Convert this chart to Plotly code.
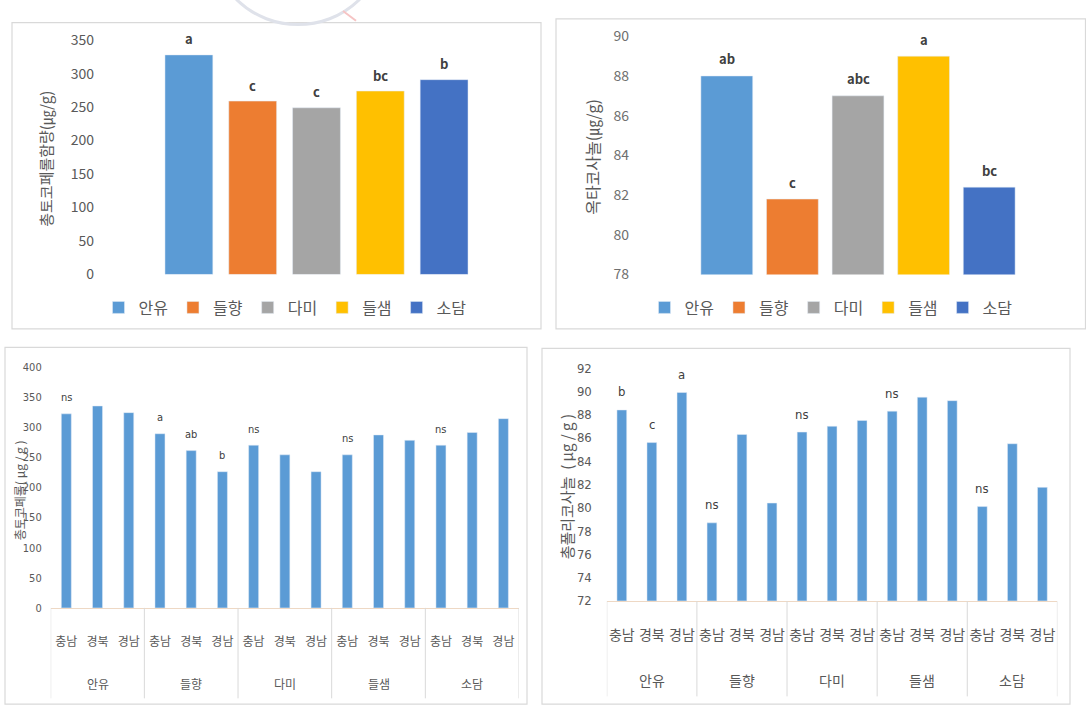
import plotly.graph_objects as go

W, H = 1086, 719

# ---------------- data ----------------
varieties = ["안유", "들향", "다미", "들샘", "소담"]
variety_colors = ["#5B9BD5", "#ED7D31", "#A5A5A5", "#FFC000", "#4472C4"]
regions = ["충남", "경북", "경남"]

tocopherol_total = [328, 259, 249, 274, 291]
tocopherol_letters = ["a", "c", "c", "bc", "b"]

octacosanol = [88.0, 81.8, 87.0, 89.0, 82.4]
octacosanol_letters = ["ab", "c", "abc", "a", "bc"]

tocopherol_by_region = [322, 335, 324, 289, 261, 226, 270, 254, 226, 254, 287, 278, 270, 291, 314]
tocopherol_region_letters = ["ns", "", "", "a", "ab", "b", "ns", "", "", "ns", "", "", "ns", "", ""]

policosanol_by_region = [88.4, 85.6, 89.9, 78.7, 86.3, 80.4, 86.5, 87.0, 87.5, 88.3, 89.5, 89.2, 80.1, 85.5, 81.75]
policosanol_letters = ["b", "c", "a", "ns", "", "", "ns", "", "", "ns", "", "", "ns", "", ""]

title_1 = "총토코페롤함량(㎍/g)"
title_2 = "옥타코사놀(㎍/g)"
title_3 = "총토코페롤( μg / g )"
title_4 = "총폴리코사놀  ( μg / g )"

# ---------------- helpers ----------------
def px_x(p):
    return p / W


def px_y(p):
    return 1 - p / H


KR = "Noto Sans CJK KR"
NARROW = "Liberation Sans Narrow, DejaVu Sans Condensed, Noto Sans CJK KR"
GRAY = "#595959"
DARK = "#404040"
FRAME = "#d9d9d9"

fig = go.Figure()

# panel 1 bars
for name, val, col in zip(varieties, tocopherol_total, variety_colors):
    fig.add_trace(go.Bar(x=[name], y=[val], name=name, marker_color=col, width=0.75,
                         xaxis="x", yaxis="y", legend="legend"))
# panel 2 bars
for name, val, col in zip(varieties, octacosanol, variety_colors):
    fig.add_trace(go.Bar(x=[name], y=[val], name=name, marker_color=col, width=0.79,
                         xaxis="x2", yaxis="y2", legend="legend2"))

# panels 3/4 combined categories
combo = [f"{v} {r}" for v in varieties for r in regions]
combo_ticks = [r for v in varieties for r in regions]

fig.add_trace(go.Bar(x=combo, y=tocopherol_by_region, marker_color="#5B9BD5", width=0.32,
                     xaxis="x3", yaxis="y3", showlegend=False))
fig.add_trace(go.Bar(x=combo, y=policosanol_by_region, marker_color="#5B9BD5", width=0.325,
                     xaxis="x4", yaxis="y4", showlegend=False))

annotations = []
for name, val, txt in zip(varieties, tocopherol_total, tocopherol_letters):
    annotations.append(dict(x=name, y=val, xref="x", yref="y", text=f"<b>{txt}</b>", showarrow=False,
                            yanchor="middle", yshift=16, font=dict(family=KR, size=13, color=DARK)))
for name, val, txt in zip(varieties, octacosanol, octacosanol_letters):
    annotations.append(dict(x=name, y=val, xref="x2", yref="y2", text=f"<b>{txt}</b>", showarrow=False,
                            yanchor="middle", yshift=17, font=dict(family=KR, size=13, color=DARK)))
for c, val, txt in zip(combo, tocopherol_by_region, tocopherol_region_letters):
    if txt:
        annotations.append(dict(x=c, y=val, xref="x3", yref="y3", text=txt, showarrow=False,
                                yanchor="middle", yshift=16, font=dict(family=NARROW, size=11, color=DARK)))
for c, val, txt in zip(combo, policosanol_by_region, policosanol_letters):
    if txt:
        annotations.append(dict(x=c, y=val, xref="x4", yref="y4", text=txt, showarrow=False,
                                yanchor="middle", yshift=18, font=dict(family=NARROW, size=13, color=DARK)))

# group labels under panels 3/4
n_r = len(regions)
for g, v in enumerate(varieties):
    mid = g * n_r + (n_r - 1) / 2
    annotations.append(dict(x=mid, y=px_y(692), xref="x3", yref="paper", text=v, showarrow=False,
                            yanchor="middle", font=dict(family=KR, size=12, color=GRAY)))
    annotations.append(dict(x=mid, y=px_y(688), xref="x4", yref="paper", text=v, showarrow=False,
                            yanchor="middle", font=dict(family=KR, size=14, color=GRAY)))

# y titles
annotations += [
    dict(x=px_x(46), y=px_y(152), xref="paper", yref="paper", text=title_1, textangle=-90,
         xanchor="center", yanchor="middle", showarrow=False, font=dict(family=KR, size=15, color=GRAY)),
    dict(x=px_x(592), y=px_y(150), xref="paper", yref="paper", text=title_2, textangle=-90,
         xanchor="center", yanchor="middle", showarrow=False, font=dict(family=KR, size=16, color=GRAY)),
    dict(x=px_x(19), y=px_y(493), xref="paper", yref="paper", text=title_3, textangle=-90,
         xanchor="center", yanchor="middle", showarrow=False, font=dict(family=KR, size=12, color=GRAY)),
    dict(x=px_x(566), y=px_y(490), xref="paper", yref="paper", text=title_4, textangle=-90,
         xanchor="center", yanchor="middle", showarrow=False, font=dict(family=KR, size=15, color=GRAY)),
]

shapes = []
# panel frames
for (x0, y0, x1, y1) in [(12, 12, 541, 327), (556, 8, 1085.5, 327), (5, 346, 527, 713), (542, 347, 1070, 713)]:
    shapes.append(dict(type="rect", xref="paper", yref="paper", x0=px_x(x0), x1=px_x(x1),
                       y0=px_y(y1), y1=px_y(y0), line=dict(color=FRAME, width=1.2), layer="below"))
# dividers of the two-level category axes
for g in range(len(varieties) + 1):
    xd = g * n_r - 0.5
    shapes.append(dict(type="line", xref="x3", yref="paper", x0=xd, x1=xd, y0=px_y(614), y1=px_y(707),
                       line=dict(color=FRAME, width=1)))
    shapes.append(dict(type="line", xref="x4", yref="paper", x0=xd, x1=xd, y0=px_y(607), y1=px_y(705),
                       line=dict(color=FRAME, width=1)))
# faint watermark at the top edge
shapes.append(dict(type="circle", xref="paper", yref="paper", x0=px_x(212), x1=px_x(384),
                   y0=px_y(14), y1=px_y(-158), line=dict(color="#dfe2ea", width=3), layer="below"))
shapes.append(dict(type="line", xref="paper", yref="paper", x0=px_x(343), x1=px_x(356),
                   y0=px_y(0), y1=px_y(10), line=dict(color="#f6c4c4", width=2), layer="below"))

common_y = dict(showgrid=False, zeroline=False, ticks="", showline=False)
common_x = dict(showgrid=False, zeroline=False, ticks="", fixedrange=True)

fig.update_layout(
    width=W, height=H,
    margin=dict(l=0, r=0, t=0, b=0),
    paper_bgcolor="white", plot_bgcolor="rgba(0,0,0,0)",
    barmode="overlay",
    font=dict(family=KR, color=GRAY),
    xaxis=dict(domain=[px_x(157), px_x(476)], anchor="y", showticklabels=False, showline=False,
               categoryorder="array", categoryarray=varieties, range=[-0.5, 4.5], **common_x),
    yaxis=dict(domain=[px_y(271), px_y(30)], anchor="x", range=[0, 350], dtick=50, tick0=0,
               ticklabelstandoff=62, tickfont=dict(family=KR, size=14, color=GRAY), **common_y),
    xaxis2=dict(domain=[px_x(694), px_x(1022)], anchor="y2", showticklabels=False, showline=False,
                categoryorder="array", categoryarray=varieties, range=[-0.5, 4.5], **common_x),
    yaxis2=dict(domain=[px_y(271), px_y(26)], anchor="x2", range=[78, 90], dtick=2, tick0=78,
                ticklabelstandoff=64, tickfont=dict(family=KR, size=14, color="#6f6f6f"), **common_y),
    xaxis3=dict(domain=[px_x(50.7), px_x(519)], anchor="y3", categoryorder="array", categoryarray=combo,
                tickvals=combo, ticktext=combo_ticks, range=[-0.5, len(combo) - 0.5],
                ticklabelstandoff=23, tickfont=dict(family=KR, size=12, color=GRAY),
                showline=True, linecolor="#eed8c4", linewidth=1, **common_x),
    yaxis3=dict(domain=[px_y(614), px_y(366)], anchor="x3", range=[0, 400], dtick=50, tick0=0,
                ticklabelstandoff=8, tickfont=dict(family=NARROW, size=11, color=GRAY), **common_y),
    xaxis4=dict(domain=[px_x(606.8), px_x(1057.4)], anchor="y4", categoryorder="array", categoryarray=combo,
                tickvals=combo, ticktext=combo_ticks, range=[-0.5, len(combo) - 0.5],
                ticklabelstandoff=21, tickfont=dict(family=KR, size=14, color=GRAY),
                showline=True, linecolor="#eed8c4", linewidth=1, **common_x),
    yaxis4=dict(domain=[px_y(606.7), px_y(367.3)], anchor="x4", range=[72, 92], dtick=2, tick0=72,
                ticklabelstandoff=14, tickfont=dict(family=NARROW, size=13, color=GRAY), **common_y),
    legend=dict(orientation="h", x=px_x(285), xanchor="center", y=px_y(305), yanchor="middle",
                font=dict(family=KR, size=16, color=GRAY), bgcolor="rgba(0,0,0,0)", traceorder="normal"),
    legend2=dict(orientation="h", x=px_x(831), xanchor="center", y=px_y(305), yanchor="middle",
                 font=dict(family=KR, size=16, color=GRAY), bgcolor="rgba(0,0,0,0)", traceorder="normal"),
    annotations=annotations,
    shapes=shapes,
)

post = (
    "document.documentElement.style.margin='0';document.body.style.margin='0';"
    "document.body.style.padding='0';document.documentElement.style.overflow='hidden';"
    "document.body.style.overflow='hidden';"
    "var d=document.getElementById('{plot_id}');"
    "if(d){d.style.position='fixed';d.style.left='0px';d.style.top='0px';}"
)

fig.write_html("out.html", post_script=post, config={"displayModeBar": False})
